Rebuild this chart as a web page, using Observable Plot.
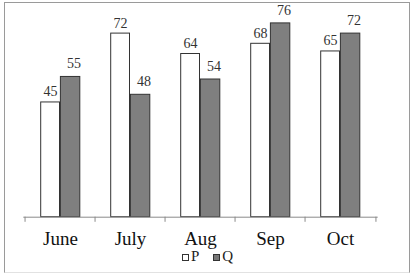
<!DOCTYPE html>
<html><head><meta charset="utf-8">
<script src="https://cdn.jsdelivr.net/npm/d3@7"></script>
<script src="https://cdn.jsdelivr.net/npm/@observablehq/plot@0.6"></script>
<style>
body{margin:0;background:#fff;font-family:"Liberation Serif","Times New Roman",serif;}
#wrap{position:relative;width:418px;height:278px;overflow:hidden;}
#frame{position:absolute;left:4px;top:2px;width:406px;height:271px;border:1px solid #9a9a9a;border-bottom-color:#e2e2e2;box-sizing:border-box;}
#chart{position:absolute;left:0;top:0;}
#legend{position:absolute;left:182px;top:248px;font-family:"Liberation Serif",serif;font-size:15px;line-height:17px;color:#222;white-space:nowrap;}
#legend .sw{display:inline-block;width:7px;height:7px;box-sizing:border-box;border:1px solid #333;vertical-align:0px;}
#legend .p{background:#fff;margin-right:2px;}
#legend .q{background:#777;margin-left:14px;margin-right:2px;}
svg text{font-family:"Liberation Serif","Times New Roman",serif;}
</style></head>
<body>
<div id="wrap"><div id="frame"></div><div id="chart"></div>
<div id="legend"><span class="sw p"></span>P<span class="sw q"></span>Q</div></div>
<script>
const months = ["June","July","Aug","Sep","Oct"];
const seriesNames = ["P","Q"];
const pValues = [45,72,64,68,65];
const qValues = [55,48,54,76,72];

const data = months.flatMap((m,i)=>[
  {month:m, series:seriesNames[0], value:pValues[i]},
  {month:m, series:seriesNames[1], value:qValues[i]}
]);
const pData = data.filter(d=>d.series==="P");
const qData = data.filter(d=>d.series==="Q");
const font = '"Liberation Serif","Times New Roman",serif';

const chart = Plot.plot({
  width:418, height:250,
  marginLeft:23.3, marginRight:40.3, marginTop:12.7, marginBottom:33.3,
  style:{fontFamily:font, background:"transparent", overflow:"visible"},
  x:{domain:months, padding:0, label:null},
  y:{domain:[0,80], axis:null},
  marks:[
    Plot.barY(pData,{x:"month", y:"value", fill:"#ffffff", stroke:"#333", strokeWidth:1, insetLeft:15.7, insetRight:35.5}),
    Plot.barY(qData,{x:"month", y:"value", fill:"#7f7f7f", stroke:"#333", strokeWidth:1, insetLeft:35.4, insetRight:15.2}),
    Plot.ruleY([0],{stroke:"#8a8a8a"}),
    Plot.ruleX(months,{x:d=>d, y1:0, y2:-2, dx:-35.45, stroke:"#8a8a8a"}),
    Plot.ruleX([months[months.length-1]],{x:d=>d, y1:0, y2:-2, dx:35.45, stroke:"#8a8a8a"}),
    Plot.text(pData,{x:"month", y:"value", text:d=>String(d.value), dx:-10, dy:-10.5, fontSize:14, fontFamily:font, fill:"#333"}),
    Plot.text(qData,{x:"month", y:"value", text:d=>String(d.value), dx:13.5, dy:-13, fontSize:14, fontFamily:font, fill:"#333"}),
    Plot.axisX({tickSize:0, tickPadding:14.5, fontSize:19, fontFamily:font, color:"#111", label:null})
  ]
});
document.getElementById("chart").appendChild(chart);
</script>
</body></html>
